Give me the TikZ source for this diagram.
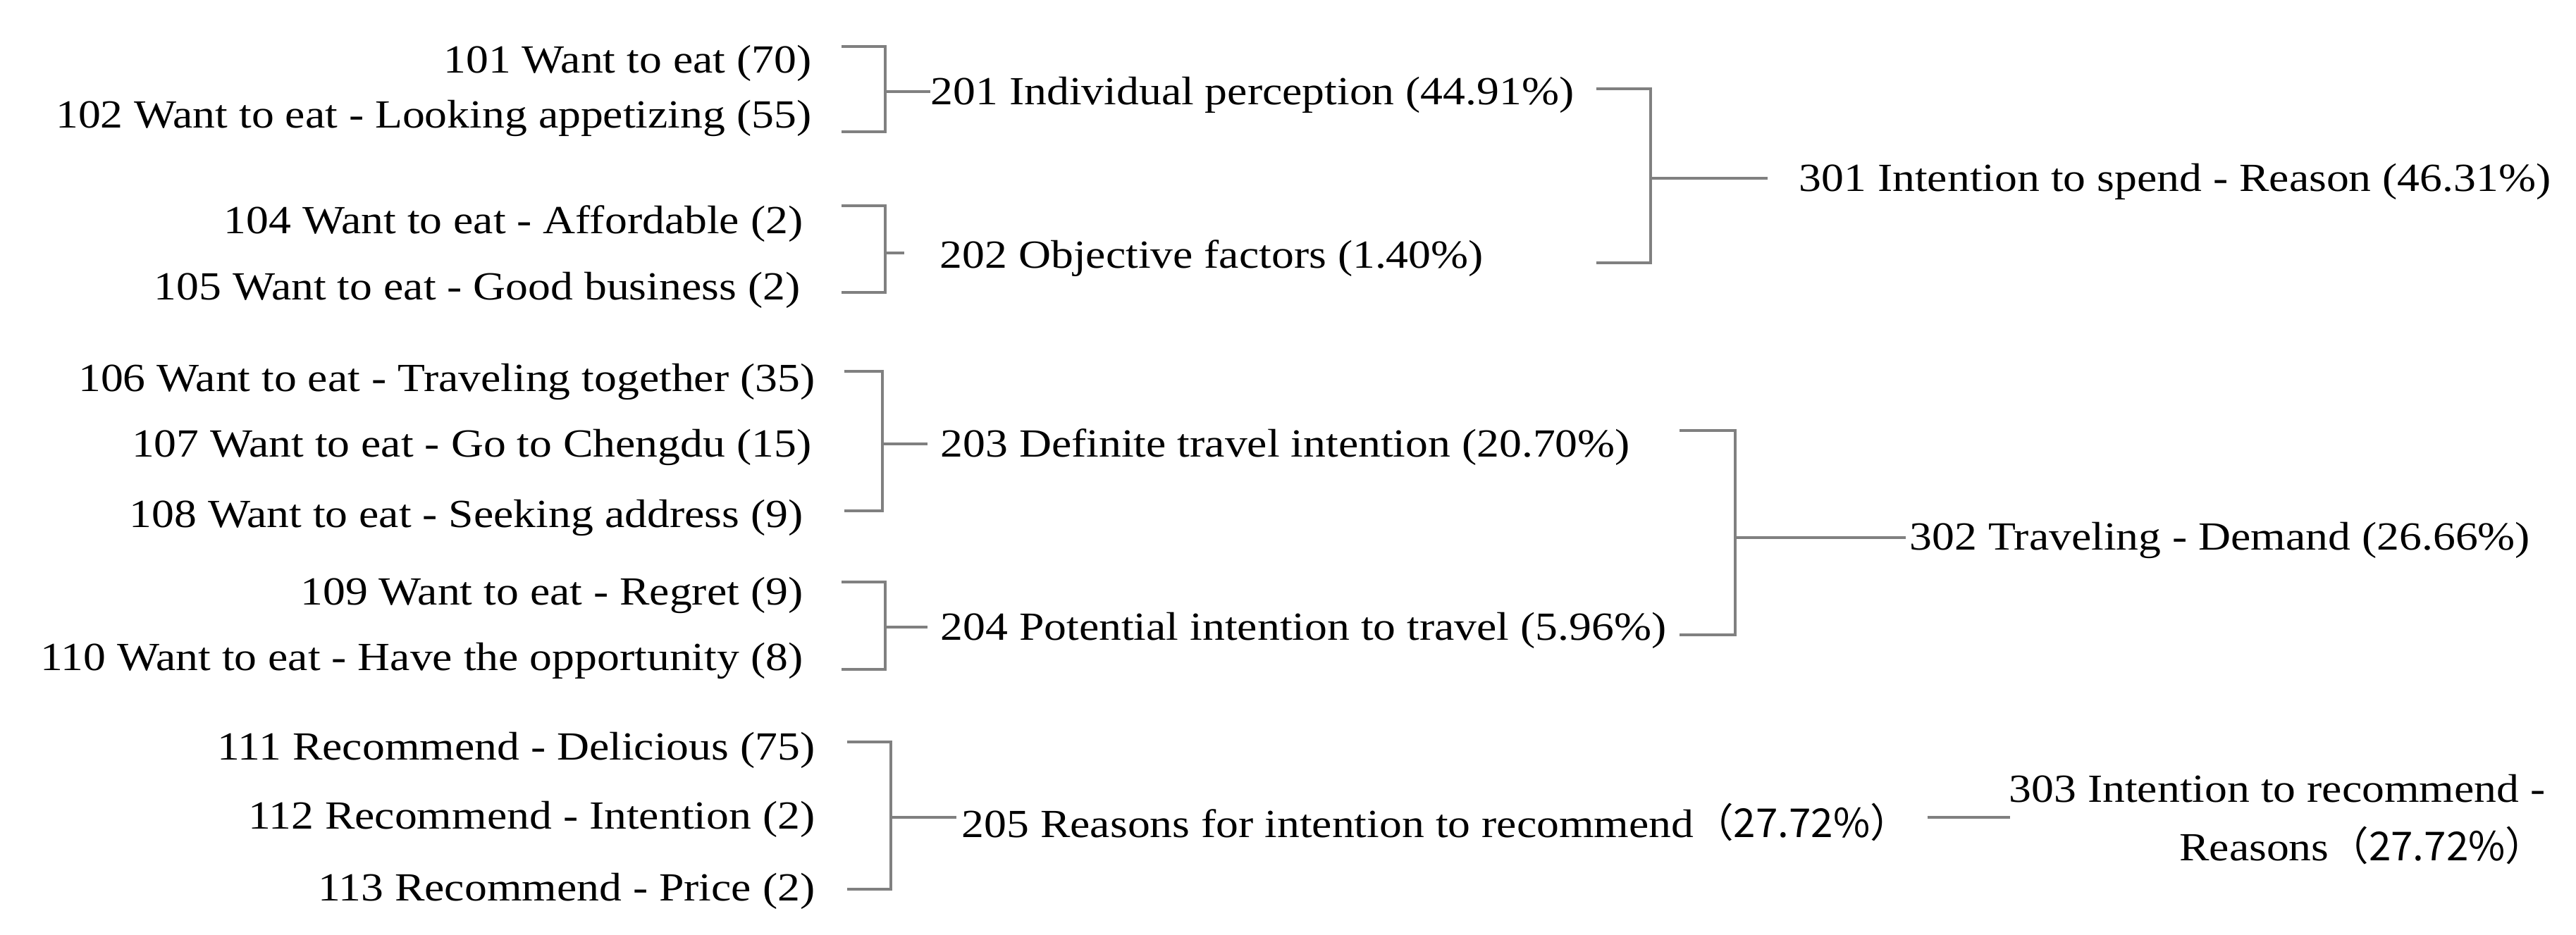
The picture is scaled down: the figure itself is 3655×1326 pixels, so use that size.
\documentclass[tikz,border=0pt]{standalone}
\usepackage{fontspec}
\setmainfont{Liberation Serif}[FakeStretch=1.125]
\newfontfamily\cjk{Noto Sans CJK SC}
\usetikzlibrary{calc}
\definecolor{linegray}{RGB}{128,128,128}
\begin{document}
\begin{tikzpicture}[x=0.01cm,y=-0.01cm,
  lbl/.style={inner sep=0pt,yshift=-0.05cm,font=\fontsize{16.1pt}{23.6pt}\selectfont,text=black},
  leaf/.style={lbl,anchor=east},
  mid/.style={lbl,anchor=west},
  conn/.style={draw=linegray,line width=0.04cm}]
\useasboundingbox (0,0) rectangle (3655,1326);
% level 1
\node[leaf] (n101) at (1152,85) {101 Want to eat (70)};
\node[leaf] (n102) at (1152,163) {102 Want to eat - Looking appetizing (55)};
\node[leaf] (n104) at (1140,313) {104 Want to eat - Affordable (2)};
\node[leaf] (n105) at (1136,407) {105 Want to eat - Good business (2)};
\node[leaf] (n106) at (1157,537) {106 Want to eat - Traveling together (35)};
\node[leaf] (n107) at (1152,630) {107 Want to eat - Go to Chengdu (15)};
\node[leaf] (n108) at (1140,730) {108 Want to eat - Seeking address (9)};
\node[leaf] (n109) at (1140,840) {109 Want to eat - Regret (9)};
\node[leaf] (n110) at (1140,933) {110 Want to eat - Have the opportunity (8)};
\node[leaf] (n111) at (1157,1060) {111 Recommend - Delicious (75)};
\node[leaf] (n112) at (1157,1158) {112 Recommend - Intention (2)};
\node[leaf] (n113) at (1157,1260) {113 Recommend - Price (2)};
% level 2
\node[mid] (n201) at (1320,130) {201 Individual perception (44.91\%)};
\node[mid] (n202) at (1333,362) {202 Objective factors (1.40\%)};
\node[mid] (n203) at (1334,630) {203 Definite travel intention (20.70\%)};
\node[mid] (n204) at (1334,890) {204 Potential intention to travel (5.96\%)};
\node[mid] (n205) at (1364,1162) {205 Reasons for intention to recommend\cjk{（}27.72\%\cjk{）}};
% level 3
\node[mid] (n301) at (2552,253) {301 Intention to spend - Reason (46.31\%)};
\node[mid] (n302) at (2709,762) {302 Traveling - Demand (26.66\%)};
\node[lbl,anchor=east,align=right] (n303) at (3612,1158) {303 Intention to recommend -\\Reasons\cjk{（}27.72\%\cjk{）}};
% bracket coordinates
\coordinate (a1) at (1194,66);  \coordinate (b1) at (1194,187);  \coordinate (j1) at (1256,130);
\coordinate (a2) at (1194,292); \coordinate (b2) at (1194,415);  \coordinate (j2) at (1256,359);
\coordinate (a4) at (1198,527); \coordinate (b4) at (1198,725);  \coordinate (j4) at (1252,630);
\coordinate (a5) at (1194,826); \coordinate (b5) at (1194,950);  \coordinate (j5) at (1256,890);
\coordinate (a7) at (1202,1053);\coordinate (b7) at (1202,1262); \coordinate (j7) at (1264,1160);
\coordinate (a3) at (2265,126); \coordinate (b3) at (2265,373);  \coordinate (j3) at (2342,253);
\coordinate (a6) at (2383,611); \coordinate (b6) at (2383,901);  \coordinate (j6) at (2462,763);
% free ends of the 205-303 connector
\coordinate (s1) at (2735,1160); \coordinate (s2) at (2852,1160);
% brackets
\foreach \k in {1,2,4,5,7,3,6}{\draw[conn] (a\k) -| (j\k) |- (b\k);}
% stubs
\draw[conn] (j1) -- (j1 -| n201.west);
\draw[conn,shorten >=0.5cm] (j2) -- (j2 -| n202.west);
\draw[conn,shorten >=0.18cm] (j4) -- (j4 -| n203.west);
\draw[conn,shorten >=0.18cm] (j5) -- (j5 -| n204.west);
\draw[conn,shorten >=0.07cm] (j7) -- (j7 -| n205.west);
\draw[conn,shorten >=0.44cm] (j3) -- (j3 -| n301.west);
\draw[conn,shorten >=0.05cm] (j6) -- (j6 -| n302.west);
\draw[conn] (s1) -- (s2);
\end{tikzpicture}
\end{document}
